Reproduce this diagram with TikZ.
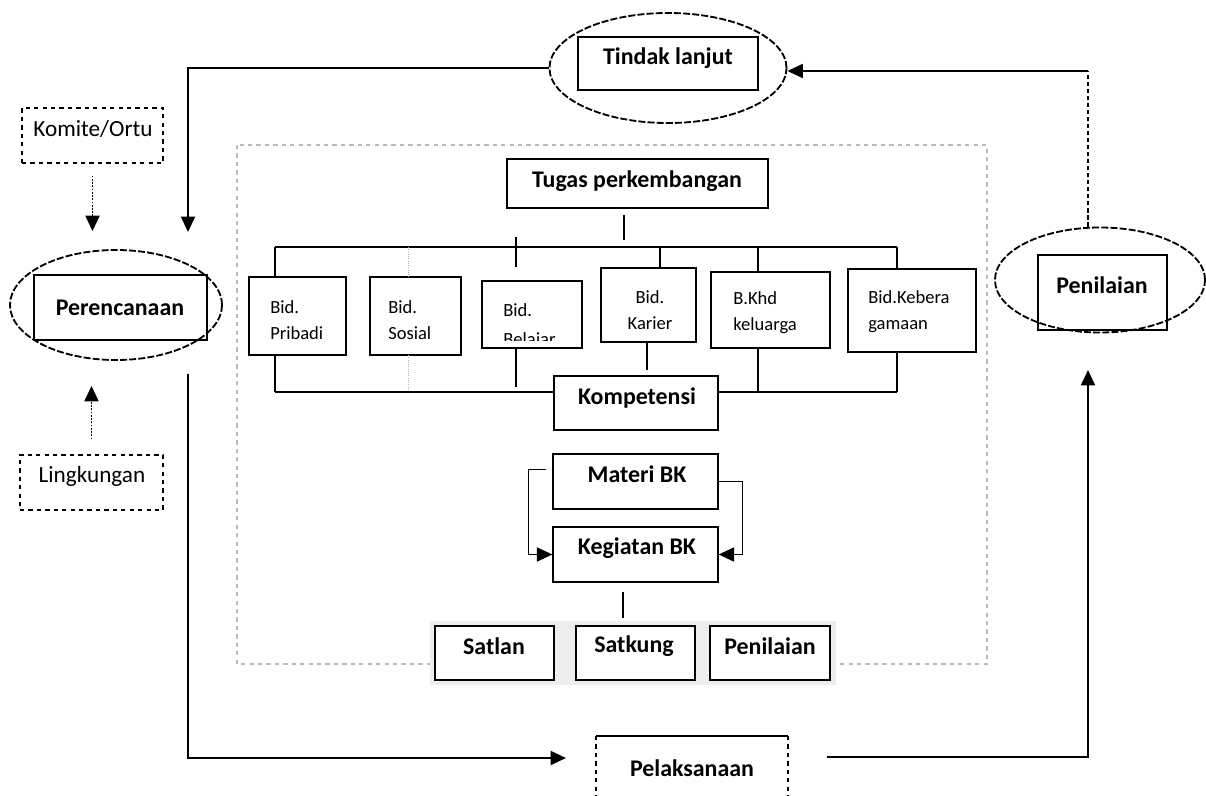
\documentclass[tikz,border=0pt]{standalone}
\usepackage{fontspec}
\setmainfont{Carlito}
\usetikzlibrary{shapes.geometric,arrows.meta,fit}
\begin{document}
\begin{tikzpicture}[x=0.025cm,y=-0.025cm,
  box/.style={draw,line width=0.9pt,inner sep=0pt,rectangle},
  big/.style={font=\fontsize{17}{20}\selectfont\bfseries,inner sep=0pt},
  reg/.style={font=\fontsize{16.5}{19}\selectfont,inner sep=0pt},
  small/.style={font=\fontsize{13.2}{18.5}\selectfont,align=left,inner sep=0pt},
  ell/.style={draw,ellipse,line width=1.3pt,dash pattern=on 5pt off 1.5pt,inner sep=0pt},
  conn/.style={line width=1.4pt,-{Triangle[length=11pt,width=10pt]}},
  plain/.style={line width=1pt},
  faint/.style={line width=0.6pt,gray!60,densely dotted},
  dotconn/.style={line width=1.3pt,densely dotted,-{Triangle[length=11pt,width=10pt]}},
]
\useasboundingbox (0,0) rectangle (1206,796);
\fill[white] (0,0) rectangle (1206,796);

% outer dashed frame
\draw[gray!55,dashed,line width=0.8pt] (237,145) rectangle (987,664);

% Tindak lanjut
\node[ell,minimum width=5.925cm,minimum height=2.75cm] (tlE) at (668,68) {};
\node[box,fit={(578,37)(758,90)}] (tl) {};
\node[big] (tlT) at (668,58) {Tindak lanjut};

% Perencanaan
\node[ell,minimum width=5.3cm,minimum height=2.75cm] (peE) at (116,305) {};
\node[box,fit={(34,275)(207,340)}] (pe) {};
\node[big] (peT) at (120,308) {Perencanaan};

% Penilaian (right)
\node[ell,minimum width=5.25cm,minimum height=2.625cm] (pnE) at (1100,280) {};
\node[box,fit={(1038,255)(1167,330)}] (pn) {};
\node[big] (pnT) at (1102,285) {Penilaian};

% Komite / Lingkungan
\node[box,dashed,fit={(22,108)(163,163)}] (ko) {};
\node[reg] (koT) at (93,129) {Komite/Ortu};
\node[box,dashed,fit={(20,455)(163,510)}] (li) {};
\node[reg] (liT) at (92,476) {Lingkungan};

% Tugas perkembangan
\node[box,fit={(507,159)(768,208)}] (tg) {};
\node[big] (tgT) at (637,181) {Tugas perkembangan};

% Bid boxes
\node[box,fit={(249,277)(346,355)}] (b1) {};
\node[small,anchor=west] (b1t) at (270,320) {Bid.\\Pribadi};
\node[box,fit={(370,277)(461,355)}] (b2) {};
\node[small,anchor=west] (b2t) at (388,320) {Bid.\\Sosial};
\node[box,fit={(482,281)(582,348)}] (b3) {};
\node[small,anchor=west] (b3t) at (503,310) {Bid.};
\begin{scope}
\clip (482,281) rectangle (582,340);
\node[small,anchor=base west] (b3u) at (503,345) {Belajar};
\end{scope}
\node[box,fit={(601,268)(696,342)}] (b4) {};
\node[small,align=center] (b4t) at (650,310) {Bid.\\Karier};
\node[box,fit={(711,272)(830,348)}] (b5) {};
\node[small,anchor=west] (b5t) at (733,313) {B.Khd\\keluarga};
\node[box,fit={(848,269)(976,352)}] (b6) {};
\node[small,anchor=west] (b6t) at (868,312) {Bid.Kebera\\gamaan};

% Kompetensi
\node[box,fit={(554,376)(718,430)}] (km) {};
\node[big] (kmT) at (637,398) {Kompetensi};

% tree lines
\draw[plain] (624,215) -- (624,240);
\draw[plain] (275,247) -- (897,247);
\draw[plain] (275,247) -- (b1.north -| 275,0);
\draw[faint] (408,247) -- (408,277);
\draw[plain] (516,237) -- (516,267);
\draw[plain] (660,247) -- (660,268);
\draw[plain] (758,247) -- (758,272);
\draw[plain] (897,247) -- (897,269);
\draw[plain] (275,355) -- (275,392);
\draw[faint] (408,355) -- (408,392);
\draw[plain] (516,348) -- (516,387);
\draw[plain] (647,342) -- (647,370);
\draw[plain] (758,348) -- (758,392);
\draw[plain] (897,352) -- (897,392);
\draw[plain] (275,392) -- (km.west |- 0,392);
\draw[plain] (km.east |- 0,392) -- (897,392);

% Materi / Kegiatan
\node[box,fit={(553,454)(718,509)}] (mt) {};
\node[big] (mtT) at (637,474) {Materi BK};
\node[box,fit={(553,527)(718,582)}] (kg) {};
\node[big] (kgT) at (637,548) {Kegiatan BK};
\draw[conn,line width=1.1pt,shorten <=0.15cm] ([yshift=0.3cm]mt.west) -- ++(-24,0) |- (kg.west);
\draw[conn,line width=1.1pt] (mt.east) -- ++(24,0) |- (kg.east);
\draw[plain] (623,592) -- (623,618);

% Satlan etc.
\fill[gray!14] (430,621) rectangle (836,685);
\node[box,fill=white,fit={(435,626)(554,680)}] (s1) {};
\node[big] (s1T) at (494,646) {Satlan};
\node[box,fill=white,fit={(576,626)(695,680)}] (s2) {};
\node[big] (s2T) at (634,646) {Satkung};
\node[box,fill=white,fit={(710,626)(830,680)}] (s3) {};
\node[big] (s3T) at (770,646) {Penilaian};

% Pelaksanaan
\coordinate (plNW) at (596,736);
\coordinate (plNE) at (788,736);
\coordinate (plSW) at (596,800);
\coordinate (plSE) at (788,800);
\node[big] (plT) at (692,768) {Pelaksanaan};
\draw[line width=1.2pt] (plNW) -- (plNE);
\draw[plain,dashed] (plNW) -- (plSW);
\draw[plain,dashed] (plNE) -- (plSE);

% main cycle connectors
\coordinate (c1) at (188,232);
\draw[conn] (tlE.west) -| (c1);
\coordinate (c2) at (1088,71);
\draw[line width=1.3pt,densely dashed] (pnE.north -| c2) -- (c2);
\draw[conn] (c2) -- (c2 -| tlE.east);
\draw[dotconn,shorten <=0.3cm,shorten >=0.45cm] (ko.south) -- (ko.south |- peE.north);
\draw[dotconn,shorten <=0.375cm,shorten >=0.625cm] (li.north) -- (li.north |- peE.south);
\coordinate (c4) at (566,758);
\draw[conn,shorten <=0.325cm] (c1 |- peE.south) |- (c4);
\coordinate (c5) at (827,757);
\coordinate (c6) at (1088,370);
\draw[conn] (c5) -| (c6);
\end{tikzpicture}
\end{document}
